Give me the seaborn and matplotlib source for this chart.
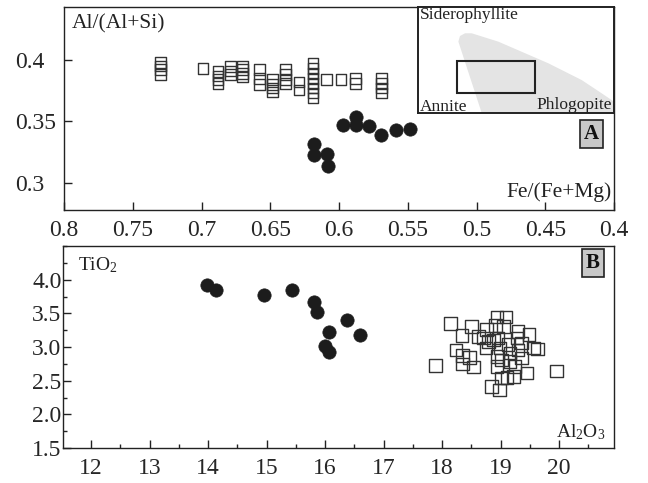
import matplotlib
matplotlib.use("Agg")
import matplotlib.pyplot as plt
import seaborn as sns
import numpy as np
from matplotlib.ticker import FixedLocator, FixedFormatter, MultipleLocator
from matplotlib.patches import Polygon, Rectangle

# ---------------- data ----------------
# Panel A: Fe/(Fe+Mg) vs Al/(Al+Si)
feA_sq = [0.730, 0.730, 0.730, 0.730,
          0.699,
          0.688, 0.688, 0.688, 0.688,
          0.679, 0.679, 0.679,
          0.670, 0.670, 0.670, 0.670,
          0.658, 0.658, 0.658,
          0.6485, 0.6485, 0.6485, 0.6485,
          0.639, 0.639, 0.639, 0.639,
          0.629, 0.629,
          0.619, 0.619, 0.619, 0.619, 0.619, 0.619, 0.619, 0.619,
          0.609,
          0.5985,
          0.588, 0.588,
          0.569, 0.569, 0.569, 0.569]
alA_sq = [0.398, 0.395, 0.392, 0.388,
          0.393,
          0.3905, 0.387, 0.384, 0.381,
          0.3946, 0.391, 0.388,
          0.395, 0.392, 0.389, 0.386,
          0.392, 0.385, 0.380,
          0.384, 0.380, 0.377, 0.374,
          0.392, 0.388, 0.384, 0.381,
          0.382, 0.3755,
          0.397, 0.393, 0.389, 0.385, 0.381, 0.377, 0.373, 0.369,
          0.384,
          0.384,
          0.385, 0.381,
          0.385, 0.381, 0.377, 0.373]
feA_ci = [0.618, 0.618, 0.609, 0.608, 0.597, 0.5876, 0.5876, 0.578, 0.5695, 0.5585, 0.548]
alA_ci = [0.332, 0.323, 0.3233, 0.3138, 0.347, 0.3537, 0.347, 0.3464, 0.3388, 0.3434, 0.3442]

# Panel B: Al2O3 vs TiO2
al2o3_ci = [13.98, 14.14, 14.96, 15.43, 15.81, 15.86, 16.37, 16.06, 16.59, 16.00, 16.07]
tio2_ci = [3.926, 3.851, 3.772, 3.841, 3.662, 3.524, 3.394, 3.216, 3.177, 3.018, 2.924]
al2o3_sq = [17.89, 19.96, 18.14, 18.50, 18.34, 18.24, 18.35, 18.35, 18.54, 18.47,
            18.76, 18.71, 18.62, 18.75, 18.94, 19.09, 18.91, 19.05, 18.88, 18.96,
            18.99, 18.94, 18.94, 19.13, 19.16, 19.16, 19.30, 19.49, 19.36, 19.30,
            19.36, 19.56, 19.63, 19.45, 19.22, 19.11, 19.02, 18.85, 18.98, 18.79,
            19.28, 19.02, 19.25]
tio2_sq = [2.725, 2.646, 3.345, 3.305, 3.171, 2.958, 2.874, 2.745, 2.700, 2.844,
           3.256, 3.132, 3.156, 2.983, 3.445, 3.445, 3.320, 3.305, 3.107, 3.132,
           2.983, 2.859, 2.710, 3.033, 2.909, 2.784, 3.231, 3.182, 3.058, 2.958,
           2.834, 2.983, 2.973, 2.611, 2.561, 2.546, 2.537, 2.412, 2.363, 3.082,
           3.132, 2.810, 2.710]

# tick labels
xticksA = [0.8, 0.75, 0.7, 0.65, 0.6, 0.55, 0.5, 0.45, 0.4]
xlabA = ["0.8", "0.75", "0.7", "0.65", "0.6", "0.55", "0.5", "0.45", "0.4"]
yticksA = [0.3, 0.35, 0.4]
ylabA = ["0.3", "0.35", "0.4"]
xticksB = [12, 13, 14, 15, 16, 17, 18, 19, 20]
xlabB = ["12", "13", "14", "15", "16", "17", "18", "19", "20"]
yticksB = [1.5, 2.0, 2.5, 3.0, 3.5, 4.0]
ylabB = ["1.5", "2.0", "2.5", "3.0", "3.5", "4.0"]

# inset schematic (inset axes fraction coordinates)
field_x = [0.325, 0.206, 0.214, 0.240, 0.274, 0.41, 0.665, 0.835, 0.937, 1.0, 1.0]
field_y = [0.0, 0.673, 0.726, 0.752, 0.752, 0.673, 0.469, 0.311, 0.186, 0.107, 0.0]
box_x0, box_y0, box_w, box_h = 0.20, 0.19, 0.397, 0.30

# ---------------- style ----------------
sns.set_style("white")
plt.rcParams['font.family'] = ['Liberation Serif', 'DejaVu Serif']
plt.rcParams['mathtext.fontset'] = 'custom'
plt.rcParams['mathtext.rm'] = 'Liberation Serif'
plt.rcParams['mathtext.it'] = 'Liberation Serif:italic'
plt.rcParams['mathtext.bf'] = 'Liberation Serif:bold'

fig = plt.figure(figsize=(6.48, 4.83), dpi=100)
ax1 = fig.add_axes([64/648, 1-210/483, (614-64)/648, (210-7)/483])
ax2 = fig.add_axes([63/648, 1-448/483, (614-63)/648, (448-246)/483])

edge = "#333333"
dark = "#1c1c1c"

# Panel A
sns.scatterplot(x=feA_sq, y=alA_sq, ax=ax1, marker="s", s=58,
                facecolors="none", edgecolor=edge, linewidth=1.0, zorder=3)
sns.scatterplot(x=feA_ci, y=alA_ci, ax=ax1, marker="o", s=92,
                color=dark, edgecolor=dark, linewidth=0.5, zorder=3)
ax1.set_xlim(0.8, 0.4)
ax1.set_ylim(0.278, 0.443)

# Panel B
sns.scatterplot(x=al2o3_sq, y=tio2_sq, ax=ax2, marker="s", s=82,
                facecolors="none", edgecolor=edge, linewidth=1.0, zorder=3)
sns.scatterplot(x=al2o3_ci, y=tio2_ci, ax=ax2, marker="o", s=92,
                color=dark, edgecolor=dark, linewidth=0.5, zorder=3)
ax2.set_xlim(11.52, 20.94)
ax2.set_ylim(1.5, 4.5)

for ax in (ax1, ax2):
    ax.set_xlabel("")
    ax.set_ylabel("")
    for sp in ax.spines.values():
        sp.set_color("#222222")
        sp.set_linewidth(1.0)
        sp.set_visible(True)

# ticks A
ax1.xaxis.set_major_locator(FixedLocator(xticksA))
ax1.xaxis.set_major_formatter(FixedFormatter(xlabA))
ax1.yaxis.set_major_locator(FixedLocator(yticksA))
ax1.yaxis.set_major_formatter(FixedFormatter(ylabA))
ax1.tick_params(axis="x", direction="in", length=6, width=1, color="#222222",
                labelsize=17, pad=7, bottom=True, top=False)
ax1.tick_params(axis="y", direction="in", length=6, width=1, color="#222222",
                labelsize=17, pad=35, left=True, right=False)
for lab in ax1.get_yticklabels():
    lab.set_horizontalalignment("left")

# ticks B
ax2.xaxis.set_major_locator(FixedLocator(xticksB))
ax2.xaxis.set_major_formatter(FixedFormatter(xlabB))
ax2.xaxis.set_minor_locator(MultipleLocator(0.5))
ax2.yaxis.set_major_locator(FixedLocator(yticksB))
ax2.yaxis.set_major_formatter(FixedFormatter(ylabB))
ax2.yaxis.set_minor_locator(MultipleLocator(0.25))
ax2.tick_params(axis="both", which="major", direction="in", length=6, width=1,
                color="#222222", labelsize=17)
ax2.tick_params(axis="both", which="minor", direction="in", length=3, width=1,
                color="#222222")
ax2.tick_params(axis="x", which="both", pad=7, bottom=True, top=False)
ax2.tick_params(axis="y", which="both", pad=1, left=True, right=False)

# axis-internal labels
ax1.text(0.015, 0.916, "Al/(Al+Si)", transform=ax1.transAxes, fontsize=15.5,
         ha="left", va="center", color="#222222")
ax1.text(0.996, 0.089, "Fe/(Fe+Mg)", transform=ax1.transAxes, fontsize=15.5,
         ha="right", va="center", color="#222222")
ax2.text(0.027, 0.906, "TiO$_2$", transform=ax2.transAxes, fontsize=14,
         ha="left", va="center", color="#222222")
ax2.text(0.984, 0.079, "Al$_2$O$_3$", transform=ax2.transAxes, fontsize=14,
         ha="right", va="center", color="#222222")

box = dict(boxstyle="square,pad=0.18", facecolor="#c8c8c8", edgecolor="#222222", linewidth=1.2)
ax1.text(0.959, 0.374, "A", transform=ax1.transAxes, fontsize=15, fontweight="bold",
         ha="center", va="center", bbox=box, color="#111111")
ax2.text(0.962, 0.916, "B", transform=ax2.transAxes, fontsize=15, fontweight="bold",
         ha="center", va="center", bbox=box, color="#111111")

# inset schematic
axi = fig.add_axes([418/648, 1-113/483, (614-418)/648, (113-7)/483])
axi.set_xlim(0, 1)
axi.set_ylim(0, 1)
axi.set_xticks([])
axi.set_yticks([])
axi.set_facecolor("white")
for sp in axi.spines.values():
    sp.set_color("#222222")
    sp.set_linewidth(1.4)
axi.add_patch(Polygon(np.column_stack([field_x, field_y]), closed=True,
                      facecolor="#e4e4e4", edgecolor="none", zorder=1))
axi.add_patch(Rectangle((box_x0, box_y0), box_w, box_h, fill=False,
                        edgecolor="#222222", linewidth=1.5, zorder=2))
axi.text(0.01, 0.925, "Siderophyllite", fontsize=12.5, ha="left", va="center", color="#222222")
axi.text(0.01, 0.06, "Annite", fontsize=12.5, ha="left", va="center", color="#222222")
axi.text(0.99, 0.075, "Phlogopite", fontsize=12.5, ha="right", va="center", color="#222222")

fig.savefig("out.png", dpi=100)
